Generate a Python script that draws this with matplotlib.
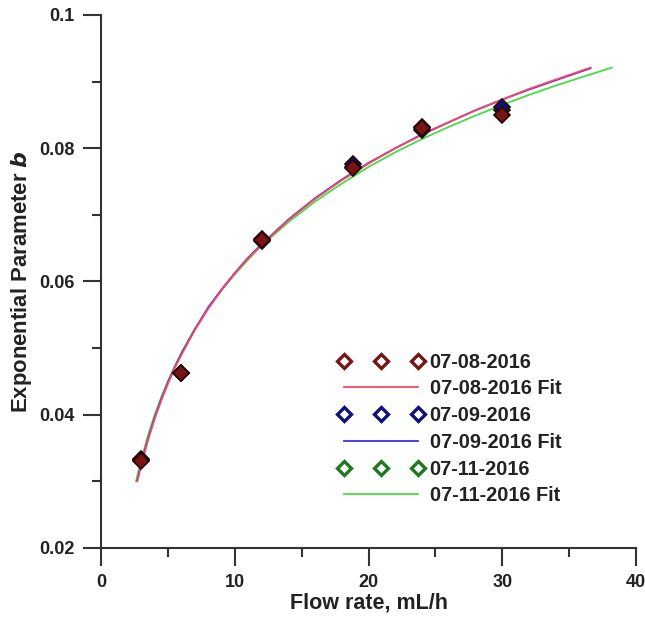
import matplotlib
matplotlib.use('Agg')
from matplotlib import pyplot as plt
from matplotlib.lines import Line2D
from matplotlib.ticker import MultipleLocator

plt.rcParams['font.family'] = ['Liberation Sans', 'DejaVu Sans']
plt.rcParams['font.weight'] = 'bold'

# measured points (flow rate vs exponential parameter b)
flow = [3, 6, 12, 18.8, 24, 30]
b_0708 = [0.0330, 0.0462, 0.0662, 0.0770, 0.0830, 0.0850]
b_0709 = [0.0333, 0.0463, 0.0663, 0.0777, 0.0832, 0.0862]
b_0711 = [0.0332, 0.0462, 0.0661, 0.0772, 0.0828, 0.0857]
err = [0.0008, 0.0007, 0.0007, 0.0009, 0.0008, 0.0008]

# fit curves
fit_x = [2.7, 3, 3.5, 4, 4.5, 5, 5.5, 6, 7, 8, 9, 10, 11, 12, 14, 16, 18, 20, 22, 24, 26, 28, 30, 32, 34, 36.6]
fit_0708 = [0.0300, 0.0325, 0.0362, 0.0394, 0.0422, 0.0447, 0.0470, 0.0490, 0.0527, 0.0559, 0.0587,
            0.0612, 0.0635, 0.0655, 0.0692, 0.0724, 0.0752, 0.0777, 0.0800, 0.0820, 0.0839, 0.0857,
            0.0873, 0.0889, 0.0903, 0.0921]
fit_0709 = [0.0302, 0.0327, 0.0364, 0.0396, 0.0424, 0.0449, 0.0471, 0.0492, 0.0528, 0.0561, 0.0588,
            0.0613, 0.0636, 0.0656, 0.0693, 0.0725, 0.0753, 0.0778, 0.0800, 0.0821, 0.0839, 0.0857,
            0.0873, 0.0888, 0.0902, 0.0920]
fit_x11 = [2.6, 3, 3.5, 4, 4.5, 5, 5.5, 6, 7, 8, 9, 10, 11, 12, 14, 16, 18, 20, 22, 24, 26, 28, 30, 32, 34, 36, 38.2]
fit_0711 = [0.0300, 0.0333, 0.0369, 0.0400, 0.0427, 0.0451, 0.0473, 0.0493, 0.0529, 0.0560, 0.0587,
            0.0611, 0.0633, 0.0654, 0.0689, 0.0720, 0.0747, 0.0772, 0.0794, 0.0814, 0.0832, 0.0849,
            0.0865, 0.0880, 0.0894, 0.0907, 0.0921]

c08, c09, c11 = '#7a1414', '#10107a', '#1f7a1f'

fig = plt.figure(figsize=(6.45, 6.24), dpi=100)
ax = fig.add_axes([0.157, 0.122, 0.829, 0.854])

l11, = ax.plot(fit_x11, fit_0711, c='#44dd44', lw=1.3)
l09, = ax.plot(fit_x, fit_0709, c='#3333ee', lw=1.3)
l08, = ax.plot(fit_x, fit_0708, c='#ff4466', lw=1.3)
for y, c in [(b_0711, c11), (b_0709, c09), (b_0708, c08)]:
    ax.errorbar(flow, y, yerr=err, ls='none', marker='D', ms=8, mew=1.2, mfc=c, mec='#220808',
                ecolor='#111111', elinewidth=1.5, capsize=0, zorder=3)

ax.set_xlim(0, 40)
ax.set_ylim(0.02, 0.1)
ax.xaxis.set_major_locator(MultipleLocator(10))
ax.xaxis.set_minor_locator(MultipleLocator(5))
ax.yaxis.set_minor_locator(MultipleLocator(0.01))
ax.set_yticks([0.02, 0.04, 0.06, 0.08, 0.1])
ax.set_yticklabels(['0.02', '0.04', '0.06', '0.08', '0.1'])
for s in ['top', 'right']:
    ax.spines[s].set_visible(False)
for s in ['left', 'bottom']:
    ax.spines[s].set_linewidth(1.5)
    ax.spines[s].set_color('#333333')
ax.tick_params(which='major', length=13, width=1.5, color='#333333', labelsize=13, pad=6, direction='out')
ax.tick_params(which='minor', length=6.5, width=1.5, color='#333333', direction='out')
for t in ax.get_xticklabels() + ax.get_yticklabels():
    t.set_fontweight('bold')
    t.set_color('#222222')

ax.set_xlabel('Flow rate, mL/h', fontsize=15.5, fontweight='bold', color='#222222', labelpad=1)
ax.set_ylabel('Exponential Parameter $\\boldsymbol{b}$', fontsize=15.9, fontweight='bold', color='#222222', labelpad=4)

mk = dict(ls='none', marker='D', ms=7.5, mew=2.4, mfc='white')
h08 = Line2D([], [], mec=c08, **mk)
h09 = Line2D([], [], mec=c09, **mk)
h11 = Line2D([], [], mec=c11, **mk)
leg = ax.legend([h08, l08, h09, l09, h11, l11],
                ['07-08-2016', '07-08-2016 Fit', '07-09-2016', '07-09-2016 Fit', '07-11-2016', '07-11-2016 Fit'],
                loc='upper left', bbox_to_anchor=(0.41, 0.40), frameon=False, numpoints=3,
                handlelength=4.33, handletextpad=0.27, labelspacing=0.39,
                prop={'weight': 'bold', 'size': 14.3})
for t in leg.get_texts():
    t.set_color('#222222')

fig.savefig('out.png', dpi=100)
